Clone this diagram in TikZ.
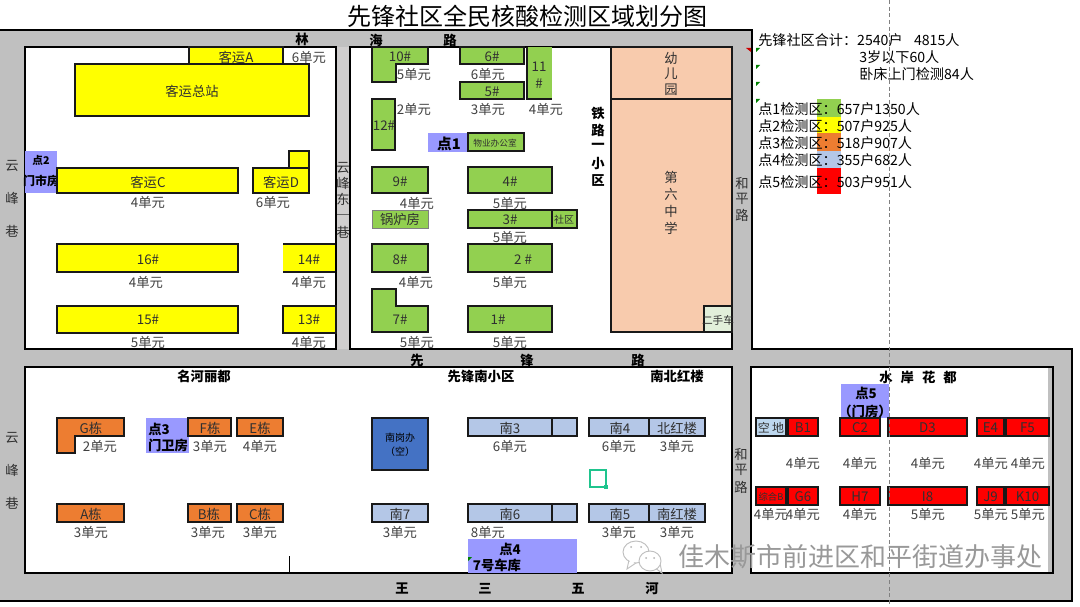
\documentclass[tikz,border=0pt]{standalone}
\usepackage{fontspec}
\setmainfont{Noto Sans CJK SC}
\definecolor{road}{HTML}{C0C0C0}
\definecolor{lane}{HTML}{D0CECE}
\definecolor{yA}{HTML}{FFFF00}
\definecolor{rA}{HTML}{FF0000}
\definecolor{gA}{HTML}{92D050}
\definecolor{oA}{HTML}{ED7D31}
\definecolor{bA}{HTML}{B4C7E7}
\definecolor{bB}{HTML}{4472C4}
\definecolor{bC}{HTML}{BDD7EE}
\definecolor{lg}{HTML}{E2EFDA}
\definecolor{ptc}{HTML}{9999FF}
\definecolor{peach}{HTML}{F8CBAD}
\definecolor{ink}{HTML}{303030}
\definecolor{marker}{HTML}{1FC48D}
\tikzset{
  blk/.style={draw=black!90, line width=1.1pt},
  ylw/.style={blk, fill=yA},
  grn/.style={blk, fill=gA},
  org/.style={blk, fill=oA},
  blu/.style={blk, fill=bA},
  rd/.style={blk, fill=rA},
  lbl/.style={inner sep=0pt, text=ink, font=\fontsize{10}{12}\selectfont},
  unit/.style={lbl, text=black!75},
  sml/.style={lbl, font=\fontsize{7.5}{9}\selectfont},
  bld/.style={inner sep=0pt, text=black, font=\fontsize{10}{12}\selectfont\bfseries},
  leg/.style={inner sep=0pt, anchor=west, text=black, font=\fontsize{10.6}{12}\selectfont},
}
\begin{document}
\begin{tikzpicture}[x=0.75pt, y=-0.75pt]
  \useasboundingbox (0,0) rectangle (1080,606);

  % 道路
  \draw[fill=road, line width=1pt] (-2,30) -- (752,30) -- (752,349) -- (1072,349) -- (1072,601) -- (-2,601) -- cycle;
  \fill[lane] (336,47) rectangle (350,349);
  \draw[black!60, line width=.5pt] (336,214) -- (350,214);

  % 街区
  \draw[fill=white, line width=1pt] (25,47) rectangle (336,349);
  \draw[fill=white, line width=1pt] (350,47) rectangle (732,349);
  \draw[fill=white, line width=1pt] (25,367) rectangle (732,573);
  \draw[fill=road, line width=1pt] (751,367) rectangle (1053,573);
  \fill[white] (752,368) rectangle (1048,572);

  % 标题
  \node[inner sep=0pt, font=\fontsize{18}{20}\selectfont] (title) at (527,16) {先锋社区全民核酸检测区域划分图};

  % 路名
  \foreach \x/\y/\t [count=\i] in {302/39/林, 376/40/海, 450/40/路, 417/360/先, 527/360/锋, 638/360/路, 402/589/王, 485/589/三, 578/589/五, 652/589/河, 598/114/铁, 598/130/路, 598/146/一, 598/164/小, 598/180/区}
    \node[bld] (rd\i) at (\x,\y) {\t};
  \foreach \x/\y/\t [count=\i] in {12/166/云, 12/198/峰, 12/231/巷, 12/438/云, 12/470/峰, 12/503/巷, 343/168/云, 343/183/峰, 343/199/东, 343/232/巷, 742/183/和, 742/199/平, 742/215/路, 741/454/和, 741/470/平, 741/487/路}
    \node[lbl] (ln\i) at (\x,\y) {\t};

  % 点1检测区
  \fill[ptc] (428,133) rectangle (468,152);
  \node[inner sep=0pt, font=\fontsize{11}{12}\selectfont\bfseries] (p1) at (449,144) {点1};
  \draw[grn] (468,133) rectangle (524,151);
  \node[sml, font=\fontsize{6.5}{8}\selectfont] (wy) at (495,143) {物业办公室};
  \draw[grn] (372,47) -- (428,47) -- (428,64) -- (396,64) -- (396,82) -- (372,82) -- cycle;
  \node[lbl] (b10) at (400,57) {10\#};
  \draw[grn] (460,47) rectangle (524,64);
  \node[lbl] (b6) at (492,57) {6\#};
  \draw[grn] (460,82) rectangle (524,99);
  \node[lbl] (b5) at (492,92) {5\#};
  \fill[gA] (527,47) rectangle (552,99);
  \draw[blk] (527,47) -- (527,99) -- (552,99);
  \node[lbl] (b11a) at (539,67) {11};
  \node[lbl] (b11b) at (539,84) {\#};
  \draw[grn] (372,99) rectangle (395,150);
  \node[lbl] (b12) at (384,126) {12\#};
  \draw[grn] (372,167) rectangle (428,193);
  \node[lbl] (b9) at (400,182) {9\#};
  \draw[grn] (468,167) rectangle (552,193);
  \node[lbl] (b4) at (510,182) {4\#};
  \draw[fill=gA, draw=black!50, line width=.6pt] (372,210) rectangle (428,228);
  \node[lbl] (gl) at (400,219) {锅炉房};
  \draw[grn] (468,210) rectangle (552,228);
  \node[lbl] (b3) at (510,220) {3\#};
  \draw[grn] (552,210) rectangle (577,228);
  \node[sml] (sq) at (564,220) {社区};
  \draw[grn] (372,244) rectangle (428,272);
  \node[lbl] (b8) at (400,260) {8\#};
  \draw[grn] (468,244) rectangle (552,272);
  \node[lbl] (b2) at (523,260) {2 \#};
  \draw[grn] (372,289) -- (396,289) -- (396,306) -- (428,306) -- (428,332) -- (372,332) -- cycle;
  \node[lbl] (b7) at (400,320) {7\#};
  \draw[grn] (468,306) rectangle (552,332);
  \node[lbl] (b1) at (498,320) {1\#};

  % 学校
  \draw[blk, fill=peach] (611,47) rectangle (732,99);
  \draw[blk, fill=peach] (611,99) rectangle (732,332);
  \foreach \y/\t [count=\i] in {58/幼, 74/儿, 90/园, 177/第, 194/六, 211/中, 228/学}
    \node[lbl] (sc\i) at (671,\y) {\t};
  \draw[blk, line width=.8pt, fill=lg] (704,306) rectangle (732,332);
  \node[sml, font=\fontsize{8}{9}\selectfont] (es) at (718,320) {二手车};

  % 点2检测区
  \fill[ptc] (25,151) rectangle (57,193);
  \node[bld, font=\fontsize{8}{9}\selectfont\bfseries] (p2) at (41,160) {点2};
  \node[bld, font=\fontsize{9}{10}\selectfont\bfseries] (ms) at (41,181) {门市房};
  \draw[ylw] (189,47) rectangle (283,64);
  \node[lbl] (ka) at (236,57) {客运A};
  \draw[ylw] (75,64) rectangle (309,116);
  \node[lbl] (kz) at (192,91) {客运总站};
  \draw[ylw] (57,168) rectangle (238,193);
  \node[lbl] (kc) at (148,182) {客运C};
  \draw[ylw] (289,151) rectangle (309,168);
  \draw[ylw] (253,168) rectangle (309,193);
  \node[lbl] (kd) at (281,182) {客运D};
  \draw[ylw] (57,244) rectangle (238,272);
  \node[lbl] (b16) at (148,260) {16\#};
  \fill[yA] (283,244) rectangle (335,272);
  \draw[blk] (283,244) -- (335,244) (283,272) -- (335,272);
  \node[lbl] (b14) at (309,260) {14\#};
  \draw[ylw] (57,306) rectangle (238,333);
  \node[lbl] (b15) at (148,320) {15\#};
  \draw[ylw] (283,306) rectangle (336,333);
  \node[lbl] (b13) at (309,320) {13\#};

  % 点3检测区
  \fill[ptc] (146,418) rectangle (189,453);
  \node[bld] (p3) at (159,429) {点3};
  \node[bld] (mw) at (168,445) {门卫房};
  \draw[org] (57,418) -- (124,418) -- (124,436) -- (75,436) -- (75,453) -- (57,453) -- cycle;
  \node[lbl] (bg) at (91,428) {G栋};
  \draw[org] (188,418) rectangle (231,436);
  \node[lbl] (bf) at (210,428) {F栋};
  \draw[org] (237,418) rectangle (283,436);
  \node[lbl] (be) at (260,428) {E栋};
  \draw[org] (57,504) rectangle (124,522);
  \node[lbl] (ba) at (91,514) {A栋};
  \draw[org] (188,504) rectangle (231,522);
  \node[lbl] (bb) at (209,514) {B栋};
  \draw[org] (237,504) rectangle (283,522);
  \node[lbl] (bc) at (260,514) {C栋};
  \draw[line width=.6pt] (289.5,556) -- (289.5,573);

  % 点4检测区
  \draw[blk, fill=bB] (372,418) rectangle (428,470);
  \node[sml, text=black] (ng) at (400,438) {南岗办};
  \node[sml, text=black] (ngk) at (400,452) {（空）};
  \draw[blu] (468,418) rectangle (577,436);
  \draw[blk] (552,418) -- (552,436);
  \node[lbl] (n3) at (510,428) {南3};
  \draw[blu] (589,418) rectangle (649,436);
  \node[lbl] (n4) at (620,428) {南4};
  \draw[blu] (649,418) rectangle (705,436);
  \node[lbl] (bh) at (677,428) {北红楼};
  \draw[blu] (372,504) rectangle (428,522);
  \node[lbl] (n7) at (400,514) {南7};
  \draw[blu] (468,504) rectangle (577,522);
  \draw[blk] (552,504) -- (552,522);
  \node[lbl] (n6) at (510,514) {南6};
  \draw[blu] (589,504) rectangle (649,522);
  \node[lbl] (n5) at (620,514) {南5};
  \draw[blu] (649,504) rectangle (705,522);
  \node[lbl] (nh) at (677,514) {南红楼};
  \fill[ptc] (468,539) rectangle (577,572.5);
  \node[bld] (p4) at (510,549) {点4};
  \node[bld] (ck) at (497,565) {7号车库};
  \fill[green!50!black] (468,557) -- (472,557) -- (468,561) -- cycle;
  \draw[marker, line width=1.5pt] (590,470) rectangle (606,487);
  \fill[marker] (604,485) rectangle (608,489);

  % 点5检测区
  \fill[ptc] (841,384) rectangle (889,418);
  \node[bld] (p5) at (866,393) {点5};
  \node[bld] (mf) at (865,411) {（门房）};
  \node[bld] (shd) at (918,377) {水\hspace{.6em}岸\hspace{.6em}花\hspace{.6em}都};
  \draw[blk, line width=.8pt, fill=bC] (756,418) rectangle (786,436);
  \node[lbl, font=\fontsize{9}{10}\selectfont] (kd0) at (771,428) {空\hspace{.2em}地};
  \draw[rd] (756,487) rectangle (786,505);
  \node[sml, font=\fontsize{7}{8}\selectfont] (zh) at (771,497) {综合B};
  \foreach \a/\b/\t [count=\i] in {788/818/B1, 840/880/C2, 888/967/D3, 977/1004/E4, 1006/1049/F5}{
    \draw[rd] (\a,418) rectangle (\b,436);
    \node[lbl] (t\i) at ({(\a+\b)/2},428) {\t};
  }
  \foreach \a/\b/\t [count=\i] in {788/818/G6, 840/880/H7, 888/967/I8, 977/1004/J9, 1006/1049/K10}{
    \draw[rd] (\a,487) rectangle (\b,505);
    \node[lbl] (r\i) at ({(\a+\b)/2},497) {\t};
  }

  % 单元数
  \foreach \x/\y/\n [count=\i] in {309/57/6, 148/202/4, 273/202/6, 146/282/4, 309/282/4, 148/342/5, 309/342/4,
    414/74/5, 488/74/6, 414/109/2, 488/109/3, 546/109/4, 417/203/4, 510/203/5, 510/237/5, 416/282/4, 510/282/5, 417/342/5, 510/342/5,
    100/446/2, 210/446/3, 260/446/4, 91/532/3, 208/532/3, 260/532/3,
    510/446/6, 619/446/6, 677/446/3, 400/532/3, 488/532/8, 619/532/3, 677/532/3,
    803/463/4, 860/463/4, 928/463/4, 991/463/4, 1028/463/4, 771/514/4, 803/514/4, 860/514/4, 928/514/5, 991/514/5, 1028/514/5}
    \node[unit] (u\i) at (\x,\y) {\n{}单元};

  % 小区名
  \node[bld] (mh) at (204,376) {名河丽都};
  \node[bld] (xf) at (481,376) {先锋南小区};
  \node[bld] (nb) at (677,376) {南北红楼};

  % 图例
  \fill[gA] (817,99) rectangle (841,117);
  \fill[yA] (817,117) rectangle (841,133);
  \fill[oA] (817,133) rectangle (841,151);
  \fill[bA] (817,151) rectangle (841,168);
  \fill[rA] (817,168) rectangle (841,194);
  \node[leg] (hj) at (758,40) {先锋社区合计：2540户\hspace{.8em}4815人};
  \node[leg] (h3) at (859,57) {3岁以下60人};
  \node[leg] (hw) at (859,74) {卧床上门检测84人};
  \node[leg] (l1) at (758,109) {点1检测区：657户1350人};
  \node[leg] (l2) at (758,126) {点2检测区：507户925人};
  \node[leg] (l3) at (758,143) {点3检测区：518户907人};
  \node[leg] (l4) at (758,160) {点4检测区：355户682人};
  \node[leg] (l5) at (758,182) {点5检测区：503户951人};
  \foreach \y in {50,67,84,101}
    \fill[green!50!black] (756,\y-2) -- (760,\y-2) -- (756,\y+2) -- cycle;
  \fill[red!80!black] (746,48) -- (751,48) -- (751,52) -- cycle;

  % 虚线
  \draw[black!50, densely dashed, line width=.4pt] (889,0) -- (889,606);

  % 水印
  \draw[black!25, fill=white, line width=.7pt] (629,560) -- (627,569) -- (636,563) -- cycle;
  \draw[black!25, fill=white, line width=.7pt] (636,552) ellipse (13 and 11);
  \fill[white] (630,558) -- (629,566) -- (636,561) -- cycle;
  \draw[black!25, fill=white, line width=.7pt] (655,568) -- (662,573) -- (660,563) -- cycle;
  \draw[black!25, fill=white, line width=.7pt] (650,561) ellipse (11 and 10);
  \foreach \x/\y in {631/547, 641/547, 646/558, 654/558}
    \fill[black!30] (\x,\y) circle (1);
  \node[inner sep=0pt, text=black!40, font=\fontsize{19.5}{22}\selectfont] (wm) at (860,557) {佳木斯市前进区和平街道办事处};
\end{tikzpicture}
\end{document}
